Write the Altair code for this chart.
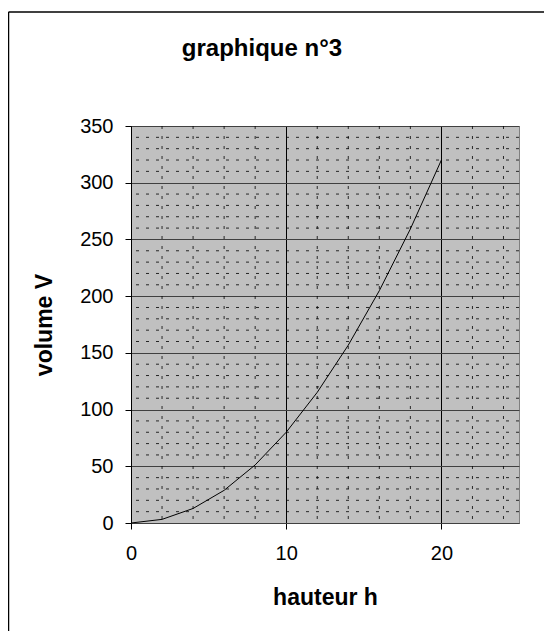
import altair as alt
import pandas as pd

# data
hauteur = [0, 2, 4, 6, 8, 10, 12, 14, 16, 18, 20]
volume = [0, 3.2, 12.8, 28.8, 51.2, 80, 115.2, 156.8, 204.8, 259.2, 320]
x_major = [0, 10, 20]
y_major = [0, 50, 100, 150, 200, 250, 300, 350]
x_minor = [2, 4, 6, 8, 12, 14, 16, 18, 22, 24]
y_minor = [10, 20, 30, 40, 60, 70, 80, 90, 110, 120, 130, 140, 160, 170, 180, 190,
           210, 220, 230, 240, 260, 270, 280, 290, 310, 320, 330, 340]

FONT = "Liberation Sans"

df = pd.DataFrame({"h": hauteur, "V": volume})
dfx = pd.DataFrame({"h": x_minor})
dfy = pd.DataFrame({"V": y_minor})
dfb = pd.DataFrame({"k": [0]})

xscale = alt.Scale(domain=[0, 25], nice=False, zero=True)
yscale = alt.Scale(domain=[0, 350], nice=False, zero=True)

xaxis = alt.Axis(values=x_major, title="hauteur h", grid=True, gridColor="#000000",
                 gridOpacity=1, gridWidth=1, domainColor="#404040", tickColor="#000000",
                 tickSize=6, labelFontSize=20, labelFont=FONT, labelColor="#000000",
                 labelPadding=14, titleFont=FONT, titleFontSize=23, titleFontWeight="bold",
                 titleColor="#000000", titlePadding=23, labelFlush=False)
yaxis = alt.Axis(values=y_major, title="volume V", grid=True, gridColor="#404040",
                 gridOpacity=1, gridWidth=1, domainColor="#000000", tickColor="#000000",
                 tickSize=6, labelFontSize=20, labelFont=FONT, labelColor="#000000",
                 labelPadding=12, titleFont=FONT, titleFontSize=23, titleFontWeight="bold",
                 titleColor="#000000", titlePadding=23, labelFlush=False)

minor_x = alt.Chart(dfx).mark_rule(color="#000000", strokeDash=[3, 7], strokeWidth=1,
                                   opacity=0.8).encode(
    x=alt.X("h:Q", scale=xscale, axis=xaxis))
minor_y = alt.Chart(dfy).mark_rule(color="#000000", strokeDash=[3, 7], strokeWidth=1,
                                   opacity=0.8).encode(
    y=alt.Y("V:Q", scale=yscale, axis=yaxis))

line = alt.Chart(df).mark_line(color="#000000", strokeWidth=1).encode(
    x=alt.X("h:Q", scale=xscale, axis=xaxis),
    y=alt.Y("V:Q", scale=yscale, axis=yaxis),
)

# outer frame of the chart (left and top edges; right/bottom lie outside the picture)
frame_left = alt.Chart(dfb).mark_rule(color="#000000", strokeWidth=1.5).encode(
    x=alt.value(-122.5), y=alt.value(-114), y2=alt.value(505))
frame_top = alt.Chart(dfb).mark_rule(color="#000000", strokeWidth=1.5).encode(
    x=alt.value(-122.5), x2=alt.value(413), y=alt.value(-114))

chart = alt.layer(minor_x, minor_y, line, frame_left, frame_top).properties(
    width=388, height=397,
    background="#FFFFFF",
    title=alt.TitleParams("graphique n°3", font=FONT, fontSize=24, fontWeight="bold",
                          color="#000000", anchor="middle", offset=-50, dx=-63),
    autosize=alt.AutoSizeParams(type="none"),
    padding={"left": 123, "top": 118, "right": 25, "bottom": 108},
).configure_view(
    fill="#C0C0C0", stroke="#808080", strokeWidth=1
)

chart.save("out.html", embed_options={"renderer": "svg", "actions": False})
